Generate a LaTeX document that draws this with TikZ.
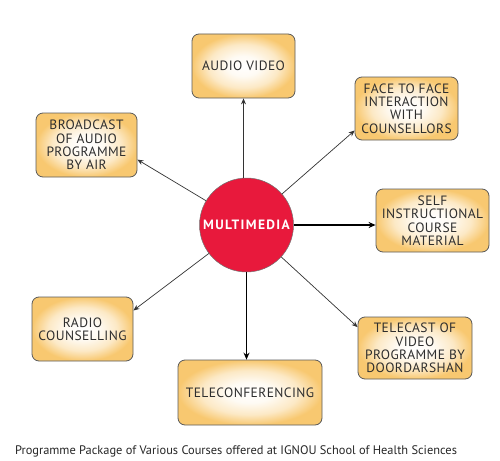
\documentclass[tikz,border=0pt]{standalone}
\usepackage{fontspec}
\setmainfont{PT Sans}
\newfontfamily\boxfont[LetterSpace=3]{PT Sans}
\newfontfamily\hubfont[LetterSpace=10]{PT Sans Bold}
\usetikzlibrary{arrows.meta}
\definecolor{boxedge}{HTML}{F8C870}
\definecolor{boxline}{HTML}{5A5A5A}
\definecolor{hubred}{HTML}{E8193C}
\definecolor{txt}{HTML}{2E2E2E}
\pgfdeclareradialshading{boxshade}{\pgfpoint{0bp}{0bp}}{color(0bp)=(white); color(8bp)=(white!92!boxedge); color(17bp)=(white!60!boxedge); color(25bp)=(boxedge); color(50bp)=(boxedge)}
\begin{document}
\begin{tikzpicture}[x=1pt,y=-1pt,
  item/.style={draw=boxline, line width=0.8pt, rounded corners=7pt,
    shading=boxshade, align=center, text=txt,
    font=\boxfont\fontsize{13.5}{13.4}\selectfont, inner sep=0pt},
  hub/.style={circle, fill=hubred, draw=black!55, line width=0.5pt,
    minimum size=94pt, inner sep=0pt, text=white,
    font=\hubfont\fontsize{13.5}{14}\selectfont},
  thinarrow/.style={draw=black!80, line width=0.7pt, -{Stealth[length=6pt,width=5pt]}},
  thickarrow/.style={draw=black, line width=1.5pt, -{Stealth[length=7pt,width=6pt]}}
]
\useasboundingbox (0,0) rectangle (500,460);

\node[hub] (mm) at (246.5,225) {MULTIMEDIA};

\node[item, minimum width=103pt, minimum height=64pt] (av) at (243.5,66) {AUDIO VIDEO};
\node[item, minimum width=103pt, minimum height=63pt] (face) at (406.5,108.5) {FACE TO FACE\\INTERACTION\\WITH\\COUNSELLORS};
\node[item, minimum width=101pt, minimum height=64pt] (bro) at (86.5,145) {BROADCAST\\OF AUDIO\\PROGRAMME\\BY AIR};
\node[item, minimum width=113pt, minimum height=63pt] (self) at (432.5,220.5) {SELF\\INSTRUCTIONAL\\COURSE\\MATERIAL};
\node[item, minimum width=101pt, minimum height=64pt] (radio) at (82.5,329) {RADIO\\COUNSELLING};
\node[item, minimum width=114pt, minimum height=62pt] (tele) at (415,348) {TELECAST OF\\VIDEO\\PROGRAMME BY\\DOORDARSHAN};
\node[item, minimum width=144pt, minimum height=65pt] (conf) at (250,392.5) {TELECONFERENCING};

\draw[thinarrow] (av.south |- mm.north) -- (av.south);
\draw[thinarrow] (mm) -- (face.203);
\draw[thinarrow] (mm) -- (bro.-16);
\draw[thickarrow] (mm.east) -- (mm.east -| self.west);
\draw[thinarrow] (mm) -- (radio.20);
\draw[thinarrow] (mm) -- (tele.160);
\draw[thickarrow] (mm.south) -- (mm.south |- conf.north);

\node[font=\fontsize{12.4}{14}\selectfont, text=black!85, anchor=base] (cap) at (236,454)
  {Programme Package of Various Courses offered at IGNOU School of Health Sciences};
\end{tikzpicture}
\end{document}
